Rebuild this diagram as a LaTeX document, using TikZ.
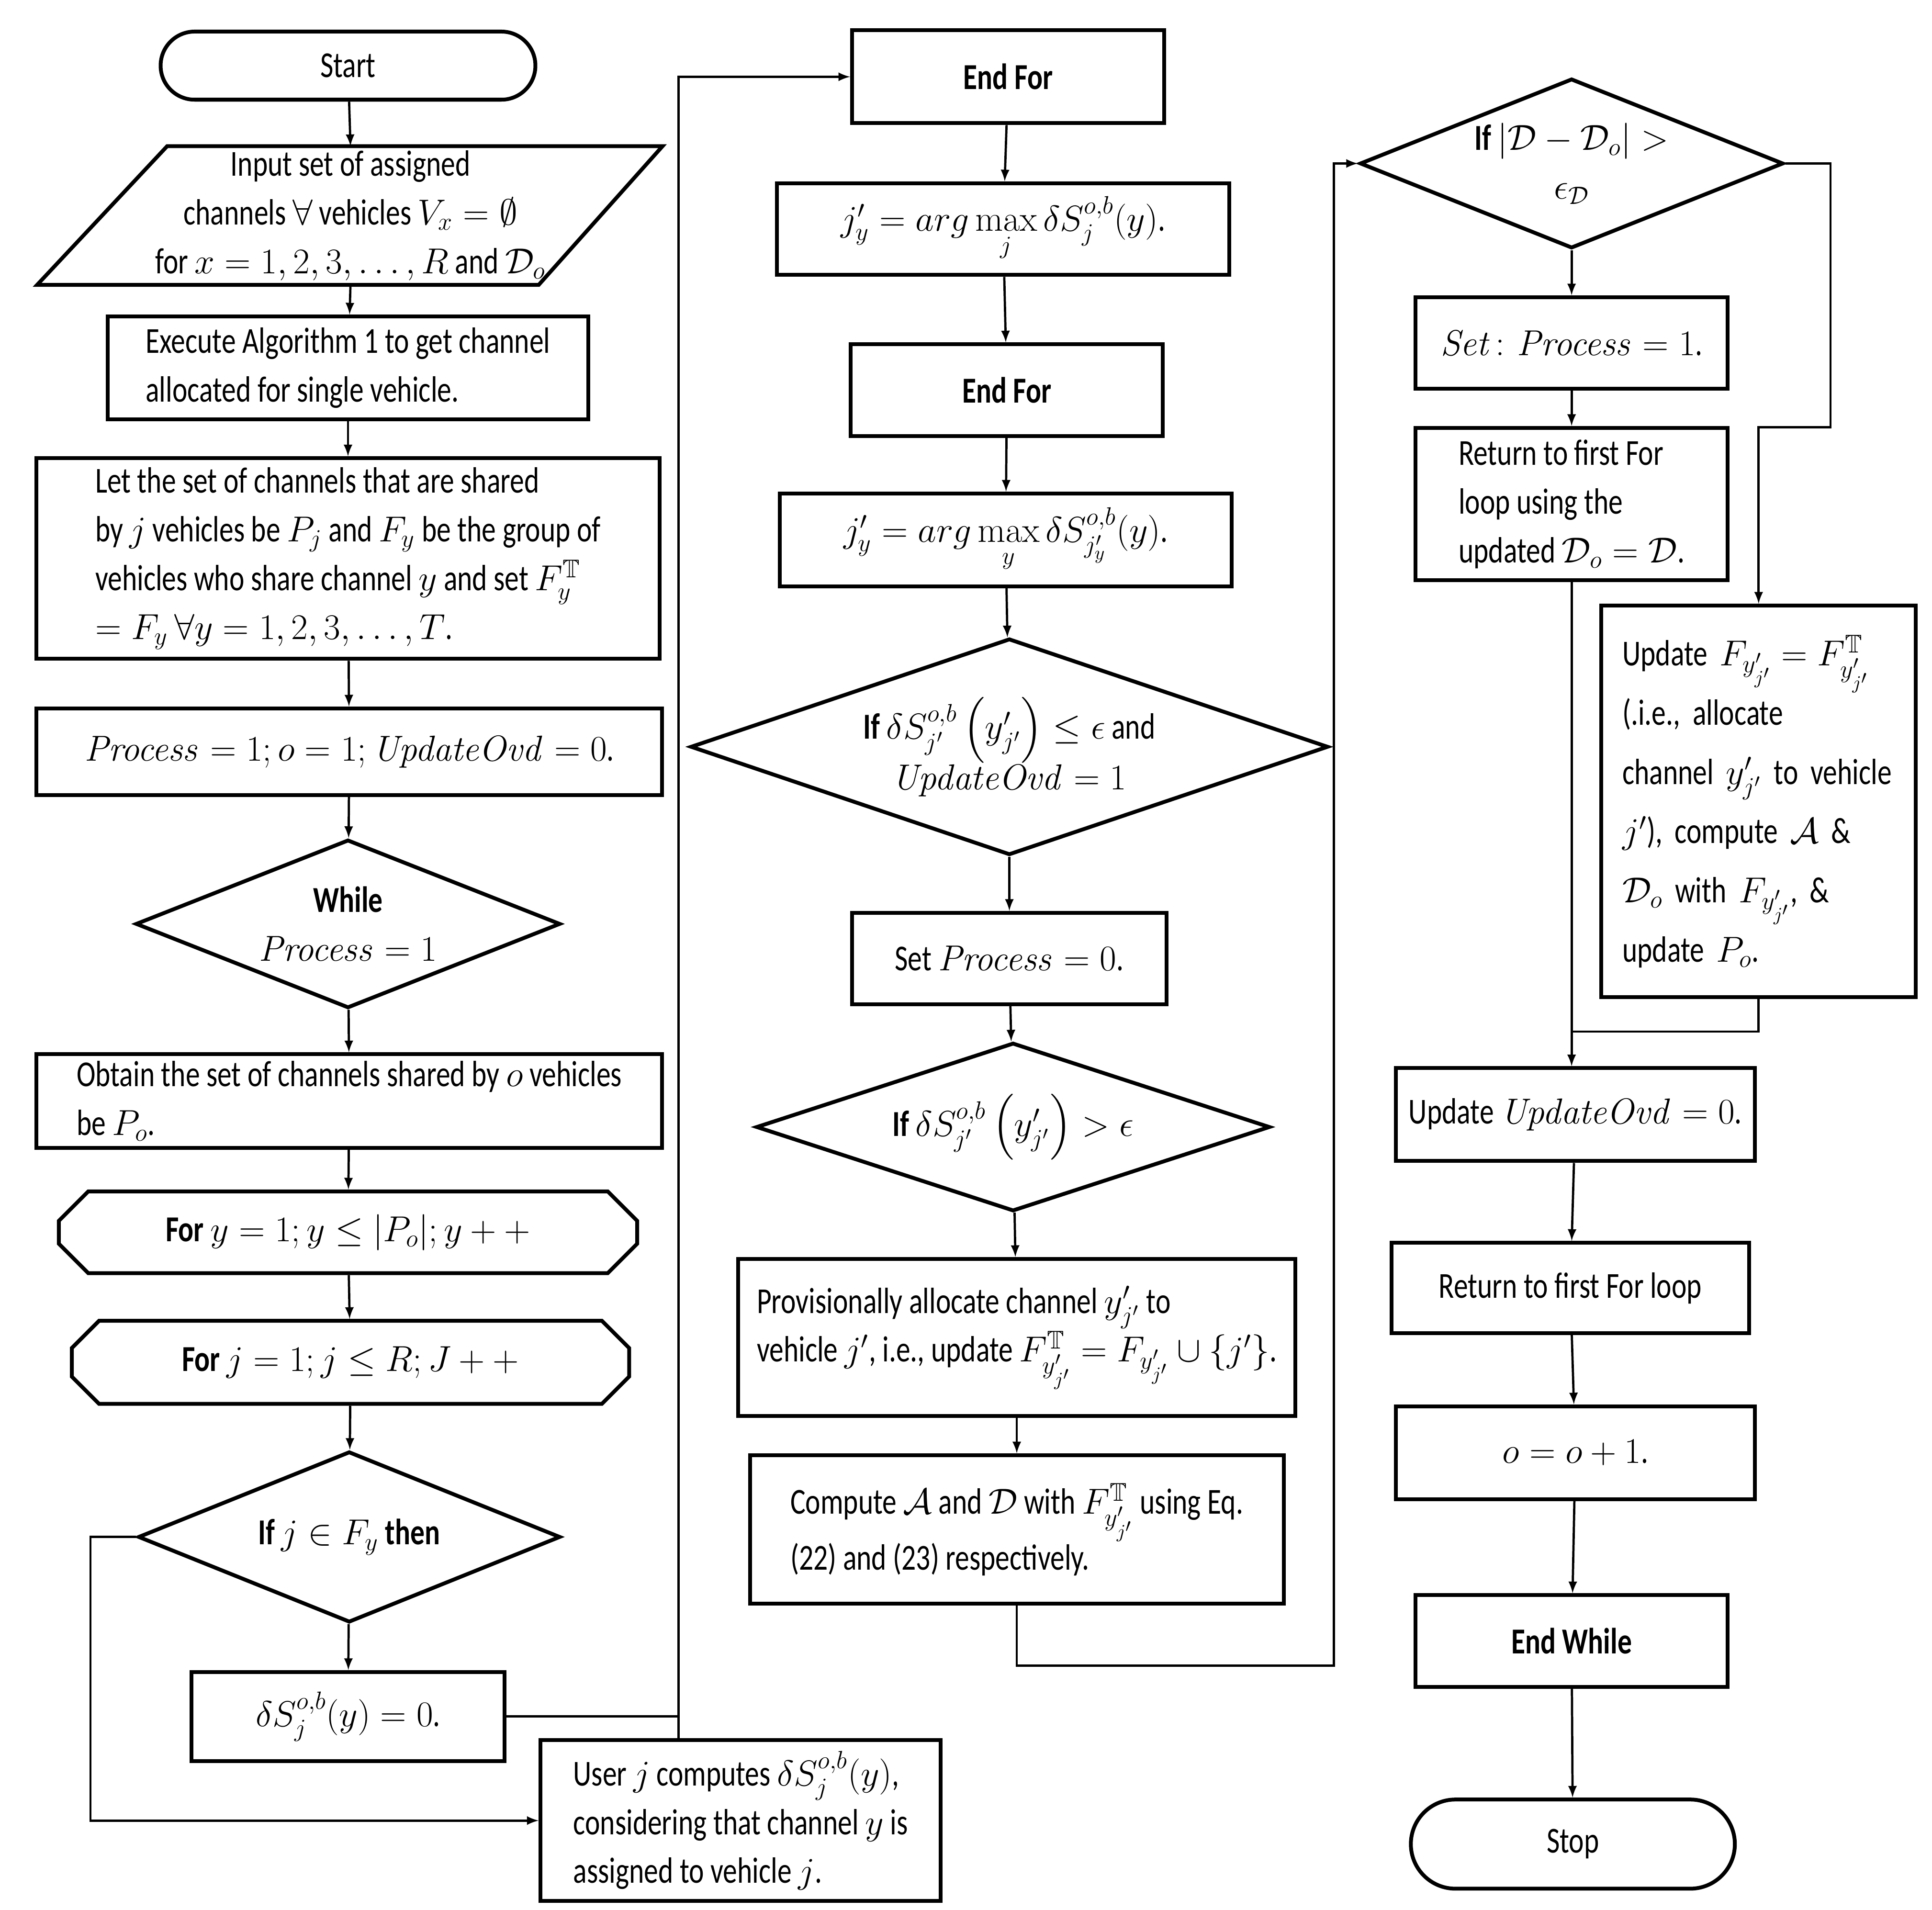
\documentclass[tikz,border=0pt]{standalone}
\usepackage{amsmath,amssymb}
\usepackage[no-math]{fontspec}
\setmainfont{Carlito}[FakeStretch=0.78]
\usetikzlibrary{shapes.geometric,shapes.misc}
\begin{document}
\begin{tikzpicture}[x=0.025cm,y=-0.025cm,
  every node/.style={font=\fontsize{21}{28}\selectfont},
  box/.style={draw,line width=2.2pt,rectangle,inner sep=4pt},
  dia/.style={draw,line width=2.2pt,diamond,aspect=2.5,inner sep=0pt},
  hex/.style={draw,line width=2.2pt,chamfered rectangle,chamfered rectangle xsep=2cm},
  term/.style={draw,line width=2.2pt,rounded rectangle},
  ar/.style={-latex,line width=1.3pt},
  ln/.style={line width=1.3pt}]
\useasboundingbox (0,0) rectangle (1560,1542);
% column 1
\node[term,minimum width=312*0.025cm,minimum height=55*0.025cm] (start) at (281,53) {Start};
\draw[line width=2.2pt] (135,118)--(535,118)--(435,230)--(30,230)--cycle;
\node[align=center] (input) at (283,174) {Input set of assigned\\channels $\forall$ vehicles $V_x=\emptyset$\\for $x=1,2,3,\dots,R$ and $\mathcal{D}_o$};
\coordinate (inT) at (283,118); \coordinate (inB) at (283,230);
\node[box,minimum width=388*0.025cm,minimum height=83*0.025cm,align=left] (exec) at (281,297) {Execute Algorithm 1 to get channel\\allocated for single vehicle.};
\node[box,minimum width=503*0.025cm,minimum height=162*0.025cm,align=left] (let) at (281,451) {Let the set of channels that are shared\\by $j$ vehicles be $P_j$ and $F_y$ be the group of\\vehicles who share channel $y$ and set $F_y^{\mathbb{T}}$\\$=F_y\ \forall y=1,2,3,\dots,T$.};
\node[box,minimum width=505*0.025cm,minimum height=70*0.025cm] (proc) at (282,607) {$\mathit{Process}=1; o=1; \mathit{UpdateOvd}=0$.};
\node[dia,minimum width=343*0.025cm,minimum height=136*0.025cm,align=center] (while) at (281,746) {\textbf{While}\\$\mathit{Process}=1$};
\node[box,minimum width=505*0.025cm,minimum height=72*0.025cm,align=left] (obt) at (282,889) {Obtain the set of channels shared by $o$ vehicles\\be $P_o$.};
\node[hex,minimum width=467*0.025cm,minimum height=66*0.025cm] (fory) at (281,995) {\textbf{For} $y=1;y\le|P_o|;y++$};
\node[hex,minimum width=450*0.025cm,minimum height=67*0.025cm] (forj) at (283,1100) {\textbf{For} $j=1;j\le R;J++$};
\node[dia,minimum width=341*0.025cm,minimum height=138*0.025cm] (ifj) at (282,1241) {\textbf{If} $j\in F_y$ \textbf{then}};
\node[box,minimum width=253*0.025cm,minimum height=72*0.025cm] (ds0) at (281,1386) {$\delta S_j^{o,b}(y)=0$.};
\node[box,minimum width=323*0.025cm,minimum height=130*0.025cm,align=left] (user) at (598,1470) {User $j$ computes $\delta S_j^{o,b}(y)$,\\considering that channel $y$ is\\assigned to vehicle $j$.};
% column 2
\node[box,minimum width=252*0.025cm,minimum height=75*0.025cm] (ef1) at (814,62) {\textbf{End For}};
\node[box,minimum width=365*0.025cm,minimum height=74*0.025cm] (am1) at (810,185) {$j_y'=arg\max\limits_{j}\delta S_j^{o,b}(y)$.};
\node[box,minimum width=252*0.025cm,minimum height=74*0.025cm] (ef2) at (813,315) {\textbf{End For}};
\node[box,minimum width=365*0.025cm,minimum height=75*0.025cm] (am2) at (812,436) {$j_y'=arg\max\limits_{y}\delta S_{j_y'}^{o,b}(y)$.};
\node[dia,minimum width=515*0.025cm,minimum height=137*0.025cm,align=center] (if1) at (815,603) {\textbf{If} $\delta S_{j'}^{o,b}\left(y_{j'}'\right)\le\epsilon$ and\\$\mathit{UpdateOvd}=1$};
\node[box,minimum width=254*0.025cm,minimum height=74*0.025cm] (setp) at (815,774) {Set $\mathit{Process}=0$.};
\node[dia,minimum width=415*0.025cm,minimum height=136*0.025cm] (if2) at (818,910) {\textbf{If} $\delta S_{j'}^{o,b}\left(y_{j'}'\right)>\epsilon$};
\node[box,minimum width=450*0.025cm,minimum height=127*0.025cm,align=left] (prov) at (821,1080) {Provisionally allocate channel $y_{j'}'$ to\\vehicle $j'$, i.e., update $F_{y_{j'}'}^{\mathbb{T}}=F_{y_{j'}'}\cup\{j'\}$.};
\node[box,minimum width=431*0.025cm,minimum height=120*0.025cm,align=left] (comp) at (821,1235) {Compute $\mathcal{A}$ and $\mathcal{D}$ with $F_{y_{j'}'}^{\mathbb{T}}$ using Eq.\\(22) and (23) respectively.};
% column 3
\node[dia,minimum width=342*0.025cm,minimum height=137*0.025cm,align=center] (if3) at (1269,132) {\textbf{If} $|\mathcal{D}-\mathcal{D}_o|>$\\$\epsilon_{\mathcal{D}}$};
\node[box,minimum width=252*0.025cm,minimum height=74*0.025cm] (setp1) at (1269,277) {$\mathit{Set}\colon\mathit{Process}=1$.};
\node[box,minimum width=252*0.025cm,minimum height=123*0.025cm,align=left] (ret1) at (1269,407) {Return to first For\\loop using the\\updated $\mathcal{D}_o=\mathcal{D}$.};
\node[box,minimum width=254*0.025cm,minimum height=316*0.025cm,align=left,text width=220*0.025cm,font=\fontsize{21}{34}\selectfont] (updf) at (1420,647) {Update $F_{y_{j'}'}=F_{y_{j'}'}^{\mathbb{T}}$\\(.i.e., allocate\\channel $y_{j'}'$ to vehicle\\$j'$), compute $\mathcal{A}$ \&\\$\mathcal{D}_o$ with $F_{y_{j'}'}$, \&\\update $P_o$.};
\node[box,minimum width=290*0.025cm,minimum height=75*0.025cm] (uo) at (1272,900) {Update $\mathit{UpdateOvd}=0$.};
\node[box,minimum width=289*0.025cm,minimum height=73*0.025cm] (ret2) at (1268,1040) {Return to first For loop};
\node[box,minimum width=290*0.025cm,minimum height=75*0.025cm] (oo) at (1272,1173) {$o=o+1$.};
\node[box,minimum width=252*0.025cm,minimum height=74*0.025cm] (ew) at (1269,1325) {\textbf{End While}};
\node[term,minimum width=271*0.025cm,minimum height=72*0.025cm] (stop) at (1270,1489) {Stop};
% connectors col 1
\draw[ar] (start) -- (inT);
\draw[ar] (inB) -- (exec);
\draw[ar] (exec) -- (let);
\draw[ar] (let) -- (proc);
\draw[ar] (proc) -- (while);
\draw[ar] (while) -- (obt);
\draw[ar] (obt) -- (fory);
\draw[ar] (fory) -- (forj);
\draw[ar] (forj) -- (ifj);
\draw[ar] (ifj) -- (ds0);
\draw[ar] (ifj.west) -- (73,1241) |- (user.west);
\draw[ln] (ds0.east) -- (548,1386);
\draw[ar] (user.north -| 548,0) -- (548,62) -- (ef1.west);
% col 2
\draw[ar] (ef1) -- (am1);
\draw[ar] (am1) -- (ef2);
\draw[ar] (ef2) -- (am2);
\draw[ar] (am2) -- (if1);
\draw[ar] (if1) -- (setp);
\draw[ar] (setp) -- (if2);
\draw[ar] (if2) -- (prov);
\draw[ar] (prov) -- (comp);
\draw[ar] (comp.south) -- (821,1345) -- (1077,1345) |- (if3.west);
% col 3
\draw[ar] (if3) -- (setp1);
\draw[ar] (setp1) -- (ret1);
\draw[ar] (ret1.south) -- (uo.north -| ret1.south);
\draw[ar] (if3.east) -- (1478,132) -- (1478,345) -- (1420,345) -- (updf.north);
\draw[ln] (updf.south) -- (1420,833) -- (1269,833);
\draw[ar] (uo) -- (ret2);
\draw[ar] (ret2) -- (oo);
\draw[ar] (oo) -- (ew);
\draw[ar] (ew) -- (stop);
\end{tikzpicture}
\end{document}
